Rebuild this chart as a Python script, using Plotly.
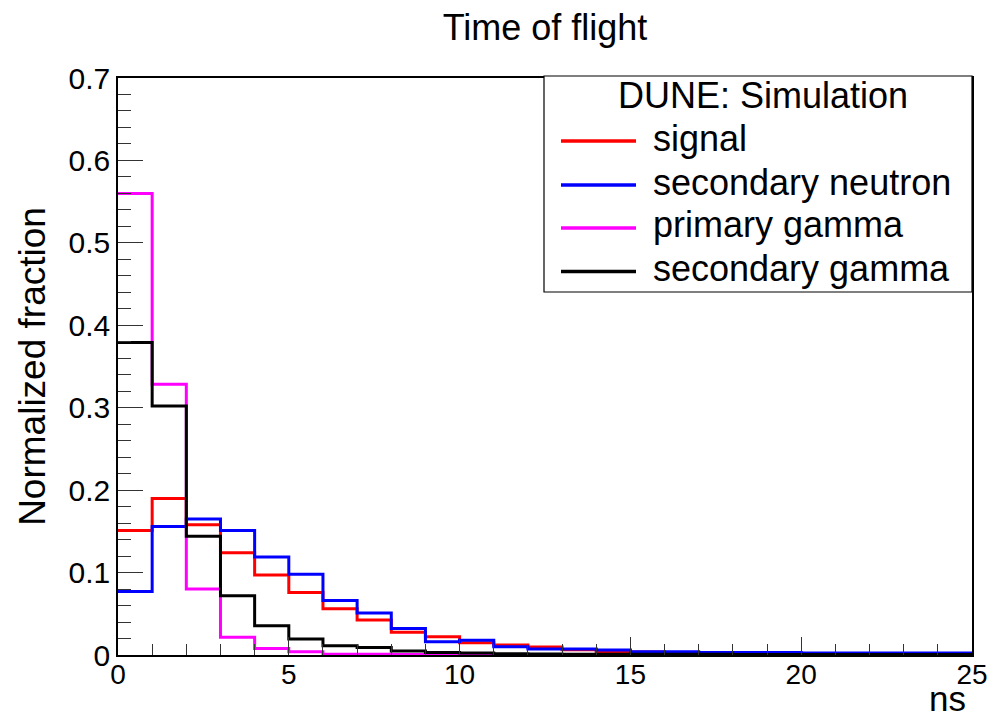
import plotly.graph_objects as go

bin_edges = list(range(0, 26))
signal = [0.151, 0.190, 0.158, 0.124, 0.097, 0.0757, 0.056, 0.0425, 0.0275, 0.022,
          0.015, 0.012, 0.0097, 0.0065, 0.004, 0.0035, 0.003, 0.0025, 0.002, 0.002,
          0.0015, 0.0015, 0.001, 0.001, 0.001]
secondary_neutron = [0.077, 0.156, 0.165, 0.151, 0.119, 0.098, 0.066, 0.051, 0.032, 0.016,
                     0.018, 0.010, 0.0073, 0.0073, 0.006, 0.004, 0.004, 0.003, 0.003, 0.003,
                     0.0025, 0.0025, 0.0025, 0.0025, 0.0025]
primary_gamma = [0.560, 0.3285, 0.080, 0.0215, 0.008, 0.004, 0.001, 0.001, 0.0005, 0.0003,
                 0.0002, 0.0001, 0.0001, 0.0, 0.0, 0.0, 0.0, 0.0, 0.0, 0.0,
                 0.0, 0.0, 0.0, 0.0, 0.0]
secondary_gamma = [0.379, 0.302, 0.144, 0.072, 0.0356, 0.0195, 0.0113, 0.009, 0.005, 0.003,
                   0.0025, 0.0015, 0.0012, 0.001, 0.001, 0.001, 0.0008, 0.0008, 0.0007, 0.0006,
                   0.0006, 0.0005, 0.0005, 0.0005, 0.0005]

series_names = ["signal", "secondary neutron", "primary gamma", "secondary gamma"]
series_values = [signal, secondary_neutron, primary_gamma, secondary_gamma]
series_colors = ["#ff0000", "#0000ff", "#ff00ff", "#000000"]
legend_header = "DUNE: Simulation"

FONT = "Liberation Sans, Arial, Helvetica, sans-serif"

# plot-area geometry in pixels (for converting legend box placement to paper coords)
L, R, T, B = 118, 972, 78, 655
W, H = R - L, B - T


def px(x):
    return (x - L) / W


def py(y):
    return (B - y) / H


fig = go.Figure()
for name, vals, color in zip(series_names, series_values, series_colors):
    fig.add_trace(go.Scatter(
        x=bin_edges, y=list(vals) + [vals[-1]], mode="lines", name=name,
        line=dict(color=color, width=3, shape="hv"), showlegend=False,
    ))

# ROOT-style legend box
shapes = [dict(type="rect", xref="paper", yref="paper",
               x0=px(544), x1=px(972), y0=py(292), y1=py(76),
               line=dict(color="black", width=1.2), fillcolor="white", layer="above")]
annotations = [dict(text=legend_header, xref="paper", yref="paper", x=px(763), y=py(96),
                    xanchor="center", yanchor="middle", showarrow=False,
                    font=dict(size=36))]
row_y = [141, 185, 228, 271.5]
for name, color, ry in zip(series_names, series_colors, row_y):
    shapes.append(dict(type="line", xref="paper", yref="paper",
                       x0=px(561), x1=px(636), y0=py(ry), y1=py(ry),
                       line=dict(color=color, width=3.5), layer="above"))
    annotations.append(dict(text=name, xref="paper", yref="paper", x=px(651), y=py(ry - 3),
                            xanchor="left", yanchor="middle", showarrow=False,
                            font=dict(size=36)))

annotations.append(dict(text="ns", xref="paper", yref="paper", x=1, y=0, xanchor="right",
                        yanchor="bottom", xshift=-4, yshift=-65, showarrow=False,
                        font=dict(size=35)))

fig.update_layout(
    width=993, height=720,
    margin=dict(l=L, r=993 - R, t=T, b=720 - B, autoexpand=False),
    paper_bgcolor="white", plot_bgcolor="white",
    font=dict(family=FONT, color="black", size=30),
    title=dict(text="Time of flight", x=(L + R) / 2 / 993, xanchor="center",
               y=1 - 27 / 720, yanchor="middle", font=dict(size=36)),
    showlegend=False,
    shapes=shapes,
    annotations=annotations,
    xaxis=dict(
        range=[0, 25], showgrid=False, zeroline=False, automargin=False,
        showline=True, linecolor="black", linewidth=1.5, mirror=True,
        ticks="inside", ticklen=18, tickwidth=1.2, tickcolor="#333",
        dtick=5, tick0=0, ticklabeloverflow="allow", ticklabelstandoff=-6,
        minor=dict(ticks="inside", ticklen=11, dtick=1, tickwidth=1.2, tickcolor="#333", showgrid=False),
        tickfont=dict(size=28),
    ),
    yaxis=dict(
        range=[0, 0.7], showgrid=False, zeroline=False, automargin=False,
        showline=True, linecolor="black", linewidth=1.5, mirror=True,
        ticks="inside", ticklen=25, tickwidth=1.2, tickcolor="#333",
        dtick=0.1, tick0=0, ticklabeloverflow="allow",
        minor=dict(ticks="inside", ticklen=13, dtick=0.02, tickwidth=1.2, tickcolor="#333", showgrid=False),
        tickfont=dict(size=30),
        title=dict(text="Normalized fraction", font=dict(size=37), standoff=12),
    ),
)

fig.write_html("out.html")
